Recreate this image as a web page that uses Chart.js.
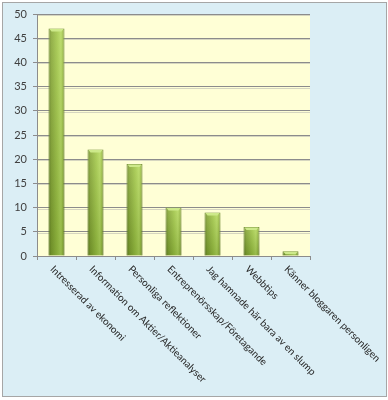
<!DOCTYPE html>
<html>
<head>
<meta charset="utf-8">
<script src="https://cdn.jsdelivr.net/npm/chart.js@4/dist/chart.umd.min.js"></script>
<style>html,body{margin:0;padding:0;background:#fff}canvas{display:block}</style>
</head>
<body>
<canvas id="c" width="388" height="400"></canvas>
<script>
const categories = [
  "Intresserad av ekonomi",
  "Information om Aktier/Aktieanalyser",
  "Personliga reflektioner",
  "Entreprenörsskap/Företagande",
  "Jag hamnade här bara av en slump",
  "Webbtips",
  "Känner bloggaren personligen"
];
const values = [47, 22, 19, 10, 9, 6, 1];
const yTicks = [0, 5, 10, 15, 20, 25, 30, 35, 40, 45, 50];

const LABEL_FONT = '10px Lato, "Liberation Sans", sans-serif';

const bgPlugin = {
  id: 'bg',
  beforeDraw(chart) {
    const ctx = chart.ctx;
    ctx.save();
    ctx.fillStyle = '#ffffff';
    ctx.fillRect(0, 0, chart.width, chart.height);
    ctx.fillStyle = '#dbeef5';
    ctx.fillRect(3, 3, 383, 393);
    ctx.strokeStyle = '#a6a6a6';
    ctx.lineWidth = 1;
    ctx.strokeRect(2.5, 2.5, 384, 394);
    const a = chart.chartArea;
    ctx.fillStyle = '#ffffd6';
    ctx.fillRect(a.left, a.top, a.right - a.left, a.bottom - a.top);
    const y = chart.scales.y;
    ctx.strokeStyle = '#d6d6c0';
    yTicks.forEach(v => {
      if (v === 0) return;
      const py = Math.round(y.getPixelForValue(v)) + 1.5;
      ctx.beginPath(); ctx.moveTo(a.left, py); ctx.lineTo(a.right, py); ctx.stroke();
    });
    ctx.restore();
  },
  afterDatasetsDraw(chart) {
    const ctx = chart.ctx;
    const meta = chart.getDatasetMeta(0);
    ctx.save();
    meta.data.forEach(el => {
      const w = el.width, x0 = el.x - w / 2, top = el.y, bottom = el.base;
      const h = bottom - top;
      if (!isFinite(x0) || !isFinite(top) || !isFinite(bottom) || h <= 0) return;
      const g = ctx.createLinearGradient(0, top, 0, bottom);
      g.addColorStop(0, 'rgba(255,255,200,0.18)');
      g.addColorStop(1, 'rgba(40,60,0,0.18)');
      ctx.fillStyle = g;
      ctx.fillRect(x0, top, w, h);
      if (h > 3) {
        ctx.fillStyle = '#cde98a';
        ctx.beginPath();
        ctx.moveTo(x0 + 1, top + 0.5);
        ctx.lineTo(x0 + w - 1, top + 0.5);
        ctx.lineTo(x0 + w - 3, top + 3);
        ctx.lineTo(x0 + 3, top + 3);
        ctx.closePath();
        ctx.fill();
      }
    });
    ctx.restore();
  },
  afterDraw(chart) {
    const ctx = chart.ctx;
    const x = chart.scales.x;
    ctx.save();
    ctx.font = LABEL_FONT;
    ctx.fillStyle = '#262626';
    ctx.textAlign = 'left';
    ctx.textBaseline = 'top';
    categories.forEach((c, i) => {
      const px = x.getPixelForValue(i);
      ctx.save();
      ctx.translate(px - 1, 264);
      ctx.rotate(Math.PI / 4);
      ctx.fillText(c, 0, 0);
      ctx.restore();
    });
    ctx.restore();
  }
};

function barGradient(context) {
  const chart = context.chart;
  const xs = chart.scales.x;
  if (!xs || context.dataIndex === undefined) return '#8cb33c';
  const cx = xs.getPixelForValue(context.dataIndex);
  if (!isFinite(cx)) return '#8cb33c';
  const w = 16;
  const g = chart.ctx.createLinearGradient(cx - w / 2, 0, cx + w / 2, 0);
  g.addColorStop(0, '#5f7d22');
  g.addColorStop(0.18, '#7fa232');
  g.addColorStop(0.55, '#9cc446');
  g.addColorStop(0.78, '#b0d65c');
  g.addColorStop(0.92, '#8fb33c');
  g.addColorStop(1, '#5f7d22');
  return g;
}

new Chart(document.getElementById('c'), {
  type: 'bar',
  data: {
    labels: categories,
    datasets: [{
      data: values,
      backgroundColor: barGradient,
      borderColor: '#5a781e',
      borderWidth: 1,
      categoryPercentage: 1,
      barPercentage: 0.41
    }]
  },
  plugins: [bgPlugin],
  options: {
    responsive: false,
    devicePixelRatio: 1,
    animation: false,
    layout: { padding: { left: 0, top: 14, right: 78, bottom: 0 } },
    plugins: { legend: { display: false }, tooltip: { enabled: false } },
    scales: {
      x: {
        grid: { display: true, drawOnChartArea: false, drawTicks: true, tickLength: 4, color: '#8c8c8c', offset: true },
        border: { color: '#8c8c8c' },
        ticks: { display: false },
        afterFit(s) { s.height = 144; }
      },
      y: {
        min: 0, max: 50,
        afterBuildTicks(s) { s.ticks = yTicks.map(v => ({ value: v })); },
        grid: { color: '#8c8c8c', tickLength: 4 },
        border: { color: '#8c8c8c' },
        ticks: { padding: 6, color: '#404040', font: { family: 'Lato, "Liberation Sans", sans-serif', size: 11 } },
        afterFit(s) { s.width = 37; }
      }
    }
  }
});
</script>
</body>
</html>
